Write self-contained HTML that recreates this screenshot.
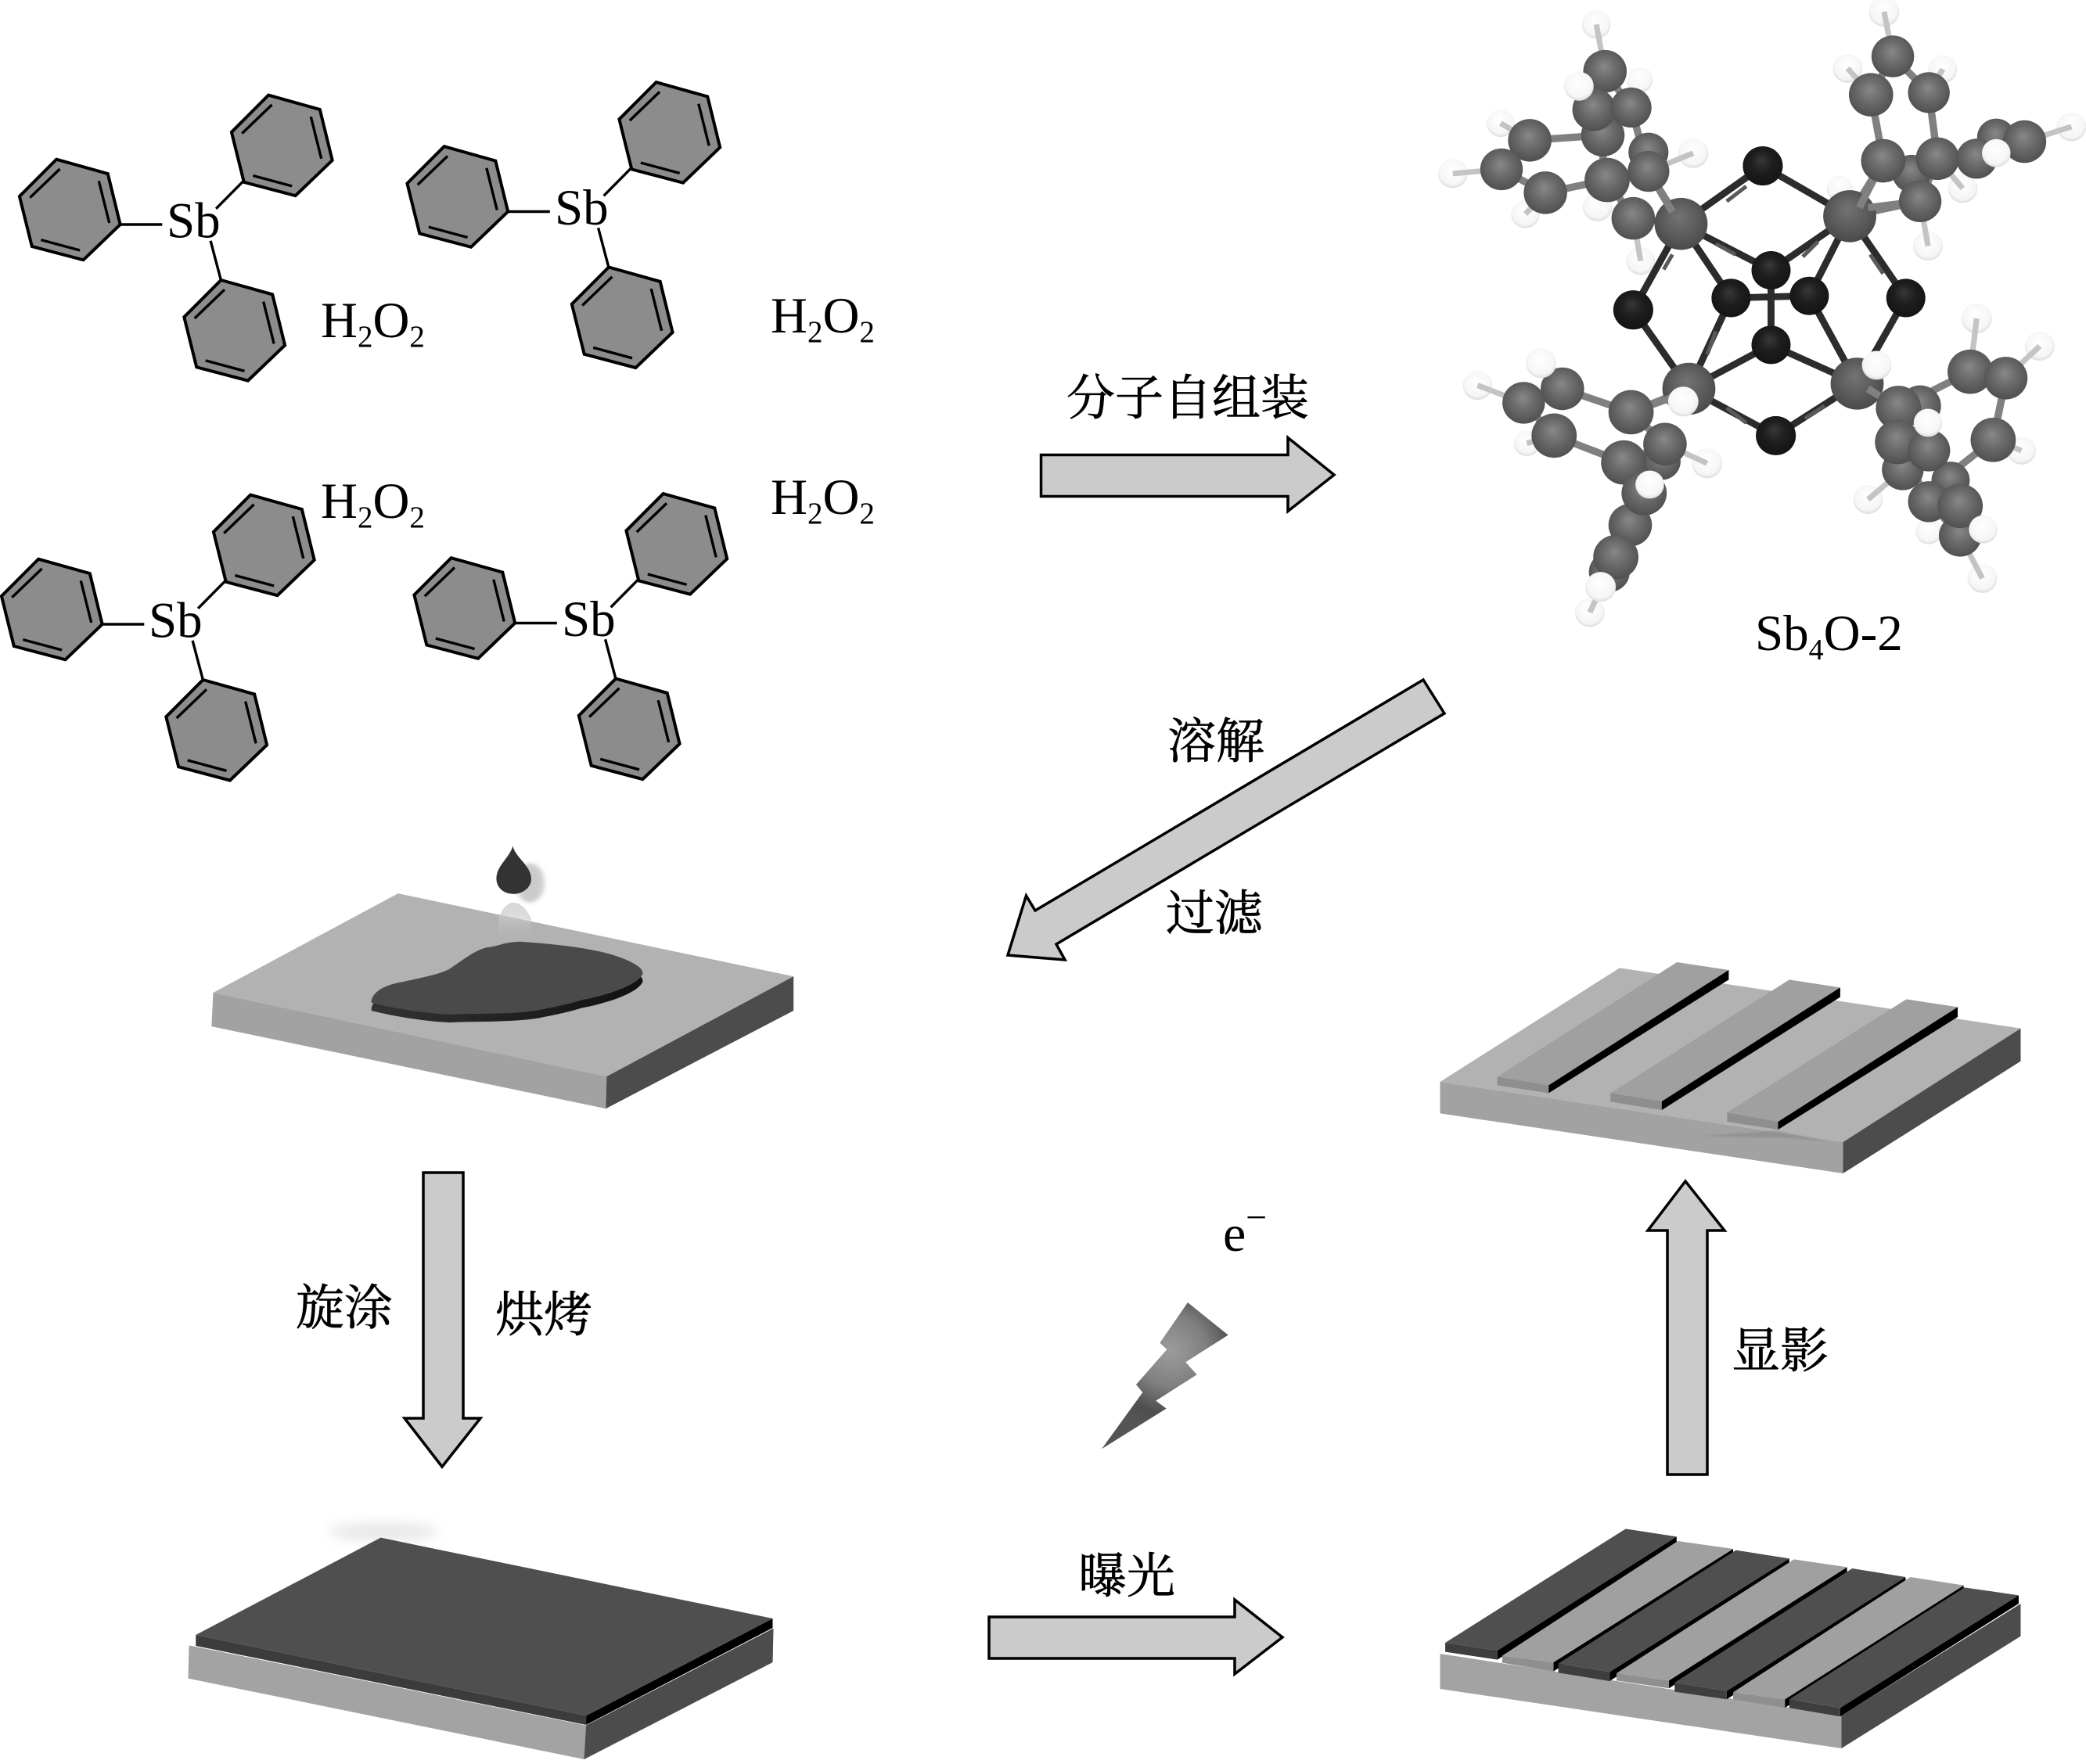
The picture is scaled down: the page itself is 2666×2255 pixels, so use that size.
<!DOCTYPE html>
<html><head><meta charset="utf-8"><style>
html,body{margin:0;padding:0;background:#fff}
svg{display:block}
.t{font-family:"Liberation Serif",serif;fill:#000}
.z{font-family:"Liberation Serif","Noto Serif CJK SC",serif;fill:#000;stroke:#000;stroke-width:.7px;font-size:62px}
</style></head><body>
<svg xmlns="http://www.w3.org/2000/svg" width="2666" height="2255" viewBox="0 0 2666 2255">
<defs>
<radialGradient id="gc" cx=".5" cy=".45" r=".55" fx=".47" fy=".38"><stop offset="0" stop-color="#888"/><stop offset=".5" stop-color="#6a6a6a"/><stop offset="1" stop-color="#505050"/></radialGradient>
<radialGradient id="gh" cx=".5" cy=".45" r=".55" fx=".45" fy=".35"><stop offset="0" stop-color="#fff"/><stop offset=".8" stop-color="#f6f6f6"/><stop offset="1" stop-color="#dcdcdc"/></radialGradient>
<radialGradient id="go" cx=".5" cy=".45" r=".55" fx=".45" fy=".35"><stop offset="0" stop-color="#383838"/><stop offset=".5" stop-color="#1e1e1e"/><stop offset="1" stop-color="#141414"/></radialGradient>
<radialGradient id="gs" cx=".5" cy=".45" r=".55" fx=".45" fy=".35"><stop offset="0" stop-color="#737373"/><stop offset=".6" stop-color="#5c5c5c"/><stop offset="1" stop-color="#4a4a4a"/></radialGradient>
<radialGradient id="bolt" gradientUnits="userSpaceOnUse" cx="430" cy="610" r="300"><stop offset="0" stop-color="#9c9c9c"/><stop offset=".45" stop-color="#808080"/><stop offset=".8" stop-color="#4e4e4e"/><stop offset="1" stop-color="#555"/></radialGradient>
<linearGradient id="edge" x1="0" y1="0" x2="1" y2="0"><stop offset="0" stop-color="#333"/><stop offset=".5" stop-color="#222"/><stop offset="1" stop-color="#111"/></linearGradient>
<filter id="b6" x="-50%" y="-50%" width="200%" height="200%"><feGaussianBlur stdDeviation="6"/></filter>
<filter id="b8" x="-60%" y="-100%" width="220%" height="300%"><feGaussianBlur stdDeviation="8"/></filter>
<filter id="b3" x="-50%" y="-50%" width="200%" height="200%"><feGaussianBlur stdDeviation="3"/></filter>
<linearGradient id="fade" x1="0" y1="0" x2="0" y2="1"><stop offset="0" stop-color="#d8d8d8"/><stop offset="1" stop-color="#b4b4b4" stop-opacity="0"/></linearGradient>
<g id="ring">
<polygon points="-17.2,-64.3 48.5,-45.9 64.4,19 17.2,64.3 -48.5,47 -64.4,-17" fill="#8c8c8c" stroke="#000" stroke-width="4" stroke-linejoin="miter"/>
<path d="M37,-36.7L50.4,17M-37,38.6L12.8,52M-12.8,-52L-51,-15.3" fill="none" stroke="#000" stroke-width="3.4"/>
</g>
<g id="mol">
<use href="#ring" x="89.3" y="268"/><use href="#ring" x="360.3" y="185.9"/><use href="#ring" x="299.7" y="422.3"/>
<path d="M153.7,287L207.3,287M310.6,231.9L276.1,266.8M282.5,358.6L269.1,307.8" fill="none" stroke="#000" stroke-width="3.4"/>
</g>
</defs>
<rect width="2666" height="2255" fill="#fff"/>

<use href="#mol"/><use href="#mol" x="495.5" y="-16.5"/><use href="#mol" x="-23" y="511"/><use href="#mol" x="504.5" y="509.5"/>
<g class="t" font-size="65">
<text x="213" y="303.5">Sb</text><text x="709" y="287">Sb</text><text x="190" y="814.5">Sb</text><text x="718" y="813">Sb</text>
<text x="410" y="431">H<tspan font-size="39" dy="12">2</tspan><tspan dy="-12">O</tspan><tspan font-size="39" dy="12">2</tspan></text>
<text x="410" y="662">H<tspan font-size="39" dy="12">2</tspan><tspan dy="-12">O</tspan><tspan font-size="39" dy="12">2</tspan></text>
<text x="985" y="425">H<tspan font-size="39" dy="12">2</tspan><tspan dy="-12">O</tspan><tspan font-size="39" dy="12">2</tspan></text>
<text x="985" y="657">H<tspan font-size="39" dy="12">2</tspan><tspan dy="-12">O</tspan><tspan font-size="39" dy="12">2</tspan></text>
<text x="2243" y="831">Sb<tspan font-size="38" dy="12">4</tspan><tspan dy="-12">O-2</tspan></text>
<text x="1563" y="1599" font-size="66">e</text>
<text x="1592" y="1572" font-size="48">−</text>
</g>

<!-- 3D molecule -->
<g transform="translate(1804,4) scale(.5556,.5447)">
<g fill="url(#gh)">
<circle cx="425" cy="50" r="33"/><circle cx="205" cy="282" r="32"/><circle cx="95" cy="400" r="34"/><circle cx="262" cy="495" r="33"/><circle cx="648" cy="352" r="35"/><circle cx="525" cy="180" r="30"/><circle cx="527" cy="605" r="33"/><circle cx="428" cy="478" r="34"/>
<circle cx="1087" cy="20" r="35"/><circle cx="1003" cy="153" r="34"/><circle cx="1222" cy="155" r="33"/><circle cx="1518" cy="290" r="34"/><circle cx="1268" cy="435" r="34"/><circle cx="985" cy="435" r="30"/><circle cx="1188" cy="570" r="34"/>
<circle cx="152" cy="897" r="34"/><circle cx="265" cy="1033" r="30"/><circle cx="680" cy="1080" r="35"/><circle cx="410" cy="1430" r="34"/>
<circle cx="1300" cy="740" r="35"/><circle cx="1445" cy="805" r="34"/><circle cx="1403" cy="1050" r="33"/><circle cx="1050" cy="1165" r="34"/><circle cx="1313" cy="1350" r="34"/><circle cx="1190" cy="1240" r="30"/>
</g>
<path d="M425,50L445,160M205,282L272,322M95,400L207,390M262,495L308,445M648,352L545,395M527,605L510,505M1087,20L1107,125M1003,153L1057,215M1222,155L1190,210M1518,290L1410,325M1268,435L1210,365M1188,570L1170,465M152,897L258,938M265,1033L328,1015M680,1080L583,1035M410,1430L470,1300M1300,740L1285,865M1445,805L1367,880M1403,1050L1338,1025M1050,1165L1130,1095M1313,1350L1262,1250" stroke="#c4c4c4" stroke-width="13" fill="none"/>
<path d="M620,518L808,382M808,382L1008,500M620,518L510,720M510,720L638,905M1008,500L1137,692M1137,692L1025,893M638,905L838,1015M838,1015L1025,893M620,518L827,627M1008,500L827,627M620,518L735,692M1008,500L915,687M638,905L735,692M1025,893L915,687M638,905L827,802M1025,893L827,802M735,692L915,687M827,627L827,802" stroke="#2c2c2c" stroke-width="16" fill="none"/>
<path d="M700,565L745,590M935,560L900,595M1055,590L1085,635M600,590L580,625M700,770L680,825M770,430L725,465M905,975L950,945M725,950L770,985" stroke="#5a5a5a" stroke-width="9" fill="none"/>
<path d="M272,322L207,390M207,390L308,445M308,445L450,415M272,322L440,310M450,415L545,395M450,415L510,505M545,395L620,518M510,505L620,518M445,160L420,250M445,160L505,245M420,250L450,415M505,245L545,395
M1107,125L1057,215M1107,125L1190,210M1057,215L1085,370M1190,210L1210,365M1085,370L1008,500M1210,365L1170,465M1170,465L1008,500M1210,365L1300,365M1300,365L1410,325M1085,370L1170,465
M347,905L505,960M328,1015L488,1078M258,938L328,1015M258,938L347,905M505,960L638,905M488,1078L583,1035M583,1035L535,1150M505,960L583,1035M535,1150L503,1225M503,1225L470,1300M545,1150L520,1240
M1285,865L1367,880M1367,880L1338,1025M1285,865L1120,950M1338,1025L1220,1120M1120,950L1025,893M1118,1030L1190,1170M1190,1050L1262,1180M1262,1180L1262,1250M1120,950L1118,1030M1170,945L1190,1050M1190,1170L1262,1250" stroke="#808080" stroke-width="17" fill="none"/>
<g fill="url(#gc)">
<circle cx="440" cy="310" r="50"/><circle cx="545" cy="350" r="46"/><circle cx="510" cy="505" r="50"/>
<circle cx="1345" cy="315" r="44"/><circle cx="1150" cy="400" r="44"/>
<circle cx="575" cy="1075" r="44"/><circle cx="503" cy="1225" r="50"/><circle cx="455" cy="1335" r="47"/>
<circle cx="1130" cy="1095" r="48"/><circle cx="1240" cy="1120" r="44"/><circle cx="1262" cy="1250" r="49"/>
</g>
<g fill="url(#go)">
<circle cx="808" cy="382" r="46"/><circle cx="510" cy="720" r="46"/><circle cx="1137" cy="692" r="45"/><circle cx="838" cy="1015" r="46"/><circle cx="827" cy="627" r="45"/><circle cx="735" cy="692" r="45"/><circle cx="915" cy="687" r="45"/><circle cx="827" cy="802" r="45"/>
</g>
<g fill="url(#gs)">
<circle cx="620" cy="518" r="61"/><circle cx="1008" cy="500" r="61"/><circle cx="638" cy="905" r="61"/><circle cx="1025" cy="893" r="61"/>
</g>
<path d="M545,395L600,490M1085,370L1030,480M1170,465L1050,480M505,960L600,925M1120,950L1050,905" stroke="#808080" stroke-width="17" fill="none"/>
<g fill="url(#gc)">
<circle cx="272" cy="322" r="50"/><circle cx="207" cy="390" r="49"/><circle cx="308" cy="445" r="50"/><circle cx="450" cy="415" r="52"/><circle cx="545" cy="395" r="48"/><circle cx="445" cy="160" r="50"/><circle cx="420" cy="250" r="50"/><circle cx="505" cy="245" r="47"/>
<circle cx="1107" cy="125" r="49"/><circle cx="1057" cy="215" r="51"/><circle cx="1190" cy="210" r="48"/><circle cx="1085" cy="370" r="51"/><circle cx="1210" cy="365" r="50"/><circle cx="1170" cy="465" r="49"/><circle cx="1300" cy="365" r="47"/><circle cx="1410" cy="325" r="50"/>
<circle cx="347" cy="905" r="50"/><circle cx="258" cy="938" r="49"/><circle cx="328" cy="1015" r="52"/><circle cx="505" cy="960" r="52"/><circle cx="488" cy="1078" r="52"/><circle cx="583" cy="1035" r="50"/><circle cx="535" cy="1150" r="52"/><circle cx="470" cy="1300" r="52"/>
<circle cx="1285" cy="865" r="52"/><circle cx="1367" cy="880" r="50"/><circle cx="1338" cy="1025" r="52"/><circle cx="1170" cy="945" r="48"/><circle cx="1120" cy="950" r="52"/><circle cx="1118" cy="1030" r="52"/><circle cx="1190" cy="1050" r="49"/><circle cx="1190" cy="1170" r="48"/><circle cx="1262" cy="1180" r="52"/>
</g>
<g fill="url(#gh)">
<circle cx="385" cy="195" r="34"/><circle cx="1345" cy="352" r="33"/><circle cx="298" cy="845" r="35"/><circle cx="625" cy="935" r="35"/><circle cx="548" cy="1130" r="33"/><circle cx="435" cy="1370" r="35"/><circle cx="1070" cy="850" r="34"/><circle cx="1188" cy="985" r="33"/><circle cx="1315" cy="1235" r="33"/>
</g>
</g>

<!-- plate 1 -->
<g transform="translate(240,1063) scale(.5238,.3367)">
<ellipse cx="835" cy="195" rx="35" ry="75" fill="#aaa" opacity=".6" filter="url(#b6)"/>
<polygon points="513,235 1478,550 1022,930 62,612" fill="#b2b2b2"/>
<polygon points="62,612 1022,930 1020,1052 58,740" fill="#a2a2a2"/>
<polygon points="1022,930 1478,550 1478,680 1020,1052" fill="#4c4c4c"/>
<path d="M758,330 C770,280 785,270 795,270 C810,270 825,290 838,330 L838,420 L758,420Z" fill="url(#fade)"/>
<path d="M793,55 C800,100 838,130 838,180 C838,215 815,237 795,237 C772,237 753,215 753,178 C753,130 785,100 793,55Z" fill="#333"/>
<path transform="translate(0,30)" d="M448,640 C455,600 490,580 520,572 C570,555 620,540 640,520 C670,490 700,450 730,440 C760,435 770,420 810,418 C880,425 980,440 1040,470 C1090,495 1112,520 1110,540 C1100,580 1030,620 960,640 C920,660 880,670 850,680 C780,695 700,690 640,695 C570,690 500,670 448,650Z" fill="url(#edge)"/>
<path d="M448,640 C455,600 490,580 520,572 C570,555 620,540 640,520 C670,490 700,450 730,440 C760,435 770,420 810,418 C880,425 980,440 1040,470 C1090,495 1112,520 1110,540 C1100,580 1030,620 960,640 C920,660 880,670 850,680 C780,695 700,690 640,695 C570,690 500,670 448,650Z" fill="#4a4a4a"/>
</g>

<!-- smear above plate 3 -->
<ellipse cx="490" cy="1958" rx="70" ry="11" fill="#e6e6e6" filter="url(#b8)"/>
<!-- plate 3 -->
<g transform="translate(221,1925) scale(.5127,.3333)">
<polygon points="40,535 1030,842 1497,470 1495,600 1025,972 38,662" fill="#a3a3a3"/>
<polygon points="1030,842 1497,470 1495,600 1025,972" fill="#4c4c4c"/>
<polygon points="57,495 1030,805 1030,840 57,537" fill="#3c3c3c"/>
<polygon points="1495,432 1495,468 1030,840 1030,805" fill="#000"/>
<polygon points="518,122 1495,432 1030,805 57,495" fill="#4f4f4f"/>
</g>

<!-- plate 2 -->
<g transform="translate(1824,1204) scale(.5125,.3333)">
<polygon points="480,100 1480,332 1037,768 32,537" fill="#b2b2b2"/>
<polygon points="32,537 1037,768 1037,888 32,658" fill="#a2a2a2"/>
<polygon points="1037,768 1480,332 1480,458 1037,888" fill="#4c4c4c"/>
<polygon points="680,745 870,725 1000,765 900,752" fill="#8c8c8c" opacity=".7" filter="url(#b3)"/>
<polygon points="623,78 752,108 303,550 175,517" fill="#a0a0a0"/>
<polygon points="175,517 303,550 303,580 175,550" fill="#8e8e8e"/>
<polygon points="752,108 752,145 303,580 303,550" fill="#000"/>
<polygon points="903,145 1030,175 585,612 457,580" fill="#a0a0a0"/>
<polygon points="457,580 585,612 585,645 457,613" fill="#8e8e8e"/>
<polygon points="1030,175 1030,212 585,645 585,612" fill="#000"/>
<polygon points="1195,220 1323,250 875,690 748,655" fill="#a0a0a0"/>
<polygon points="748,655 875,690 875,720 748,690" fill="#8e8e8e"/>
<polygon points="1323,250 1323,288 875,720 875,690" fill="#000"/>
</g>

<!-- plate 4 -->
<g transform="translate(1824,1935) scale(.5125,.3333)">
<polygon points="32,537 1033,775 1033,900 32,672" fill="#a3a3a3"/>
<polygon points="1033,775 1480,345 1480,470 1033,900" fill="#4c4c4c"/>
<g fill="#000">
<polygon points="622,88 622,125 175,560 175,525"/><polygon points="763,135 763,152 315,605 315,570"/><polygon points="903,172 903,205 455,642 455,607"/><polygon points="1047,205 1047,225 603,670 603,640"/><polygon points="1193,243 1193,277 747,712 747,680"/><polygon points="1338,275 1338,292 892,745 892,712"/><polygon points="1475,313 1475,345 1030,778 1030,745"/>
</g>
<g fill="#a0a0a0">
<polygon points="625,105 763,135 315,570 187,545"/><polygon points="915,175 1047,205 603,640 472,612"/><polygon points="1205,243 1338,275 892,712 763,685"/>
</g>
<g fill="#8f8f8f">
<polygon points="187,545 315,570 315,605 187,572"/><polygon points="472,612 603,640 603,670 472,640"/><polygon points="763,685 892,712 892,745 763,712"/>
</g>
<g fill="#4f4f4f">
<polygon points="495,58 622,88 175,525 45,495"/><polygon points="770,140 903,172 455,607 327,575"/><polygon points="1060,210 1193,243 747,680 617,648"/><polygon points="1340,283 1475,313 1030,745 903,712"/>
</g>
<g fill="#3e3e3e">
<polygon points="45,495 175,525 175,560 45,530"/><polygon points="327,575 455,607 455,642 327,610"/><polygon points="617,648 747,680 747,712 617,683"/><polygon points="903,712 1030,745 1030,778 903,745"/>
</g>
</g>

<!-- bolt -->
<g transform="translate(1353,1524) scale(.3333)">
<polygon points="495,423 650,548 487,652 530,700 373,800 413,830 165,985 322,768 297,738 415,603 388,578" fill="url(#bolt)"/>
</g>

<!-- arrows -->
<g fill="#cbcbcb" stroke="#000" stroke-width="3.5" stroke-linejoin="miter">
<polygon points="1330.5,581.5 1646,581.5 1646,559.5 1705,607 1646,653.5 1646,634.5 1330.5,634.5"/>
<polygon points="1819,869 1846,912 1350,1207 1361,1227 1288,1221 1311.5,1145 1323,1164"/>
<polygon points="541,1499 592,1499 592,1813 614,1813 565,1875 517,1813 541,1813"/>
<polygon points="1264,2067 1578,2067 1578,2045 1639,2093 1578,2140 1578,2120 1264,2120"/>
<polygon points="2131,1885 2182,1885 2182,1573 2204,1573 2154,1510 2106,1573 2131,1573"/>
</g>

<!-- Chinese labels -->
<g class="z">
<text x="1363" y="530">分子自组装</text>
<text x="1492" y="969">溶解</text>
<text x="1490" y="1189">过滤</text>
<text x="378" y="1693">旋涂</text>
<text x="633" y="1702">烘烤</text>
<text x="2213" y="1748">显影</text>
<text x="1378" y="2036">曝光</text>
</g>
</svg>
</body></html>
